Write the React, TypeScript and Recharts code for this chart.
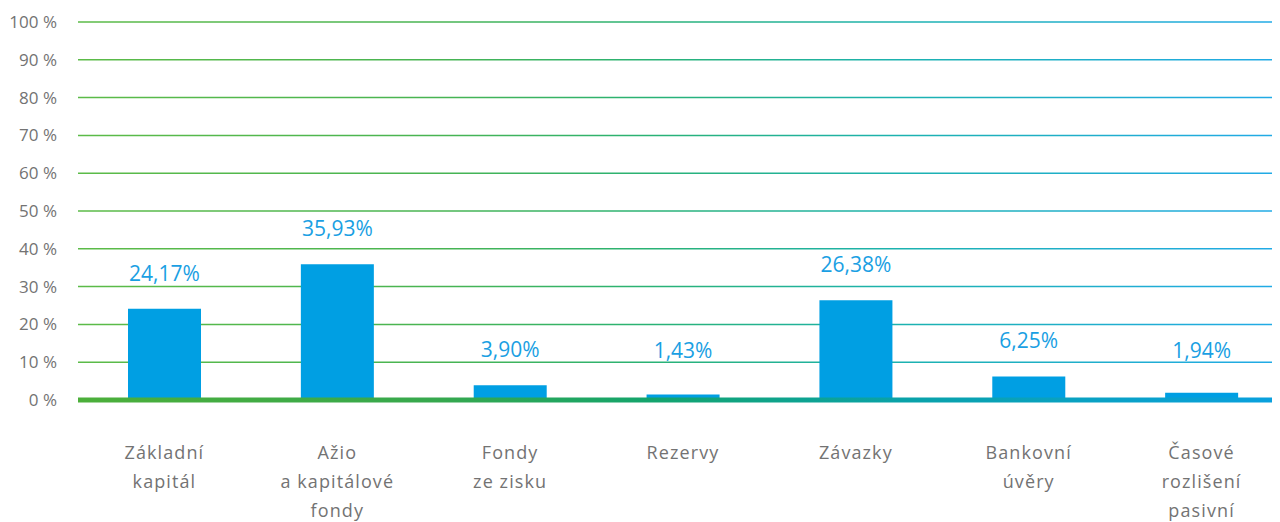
import React from "react";
import { BarChart, Bar, XAxis, YAxis, CartesianGrid, ReferenceLine, LabelList } from "recharts";

const categories = [
  "Základní\nkapitál",
  "Ažio\na kapitálové\nfondy",
  "Fondy\nze zisku",
  "Rezervy",
  "Závazky",
  "Bankovní\núvěry",
  "Časové\nrozlišení\npasivní",
];
const shares = [24.17, 35.93, 3.9, 1.43, 26.38, 6.25, 1.94];
const yTicks = [0, 10, 20, 30, 40, 50, 60, 70, 80, 90, 100];

const data = categories.map((c, i) => ({ name: c, value: shares[i] }));

const FONT = "'Open Sans', 'Noto Sans', sans-serif";

const CategoryTick = (props: any) => {
  const { x, y, payload } = props;
  const lines = String(payload.value).split("\n");
  return (
    <text
      x={x}
      y={y}
      textAnchor="middle"
      fill="#737373"
      fontSize={18}
      fontFamily={FONT}
      letterSpacing={1.1}
    >
      {lines.map((l, i) => (
        <tspan key={i} x={x} dy={i === 0 ? 59 : 29}>
          {l}
        </tspan>
      ))}
    </text>
  );
};

const ValueLabel = (props: any) => {
  const { x, y, width, height, value } = props;
  const perUnit = height / value;
  const base = y + height;
  const minTop = base - perUnit * 3.6;
  const cy = Math.min(y, minTop) - 35;
  return (
    <text
      x={x + width / 2}
      y={cy + 7}
      textAnchor="middle"
      fill="#1a9fe3"
      fontSize={21}
      fontFamily={FONT}
    >
      {value.toFixed(2).replace(".", ",") + "%"}
    </text>
  );
};

export default function App() {
  return (
    <div style={{ width: 1272, height: 514, overflow: "hidden" }}>
      <BarChart
        width={1280}
        height={514}
        data={data}
        margin={{ top: 14, right: 0, bottom: 0, left: 0 }}
      >
        <defs>
          <linearGradient id="gridGrad" gradientUnits="userSpaceOnUse" x1={70} y1={0} x2={1280} y2={0}>
            <stop offset="0" stopColor="#5cbb48" />
            <stop offset="0.3" stopColor="#48b452" />
            <stop offset="0.47" stopColor="#2ab274" />
            <stop offset="0.68" stopColor="#1cb2b0" />
            <stop offset="1" stopColor="#22aae8" />
          </linearGradient>
          <linearGradient id="baseGrad" gradientUnits="userSpaceOnUse" x1={70} y1={0} x2={1280} y2={0}>
            <stop offset="0" stopColor="#4caf3a" />
            <stop offset="0.3" stopColor="#36a84e" />
            <stop offset="0.47" stopColor="#14a46c" />
            <stop offset="0.68" stopColor="#0aa2a8" />
            <stop offset="1" stopColor="#0aa0e0" />
          </linearGradient>
        </defs>
        <CartesianGrid vertical={false} stroke="url(#gridGrad)" strokeWidth={1.5} />
        <XAxis
          dataKey="name"
          axisLine={false}
          tickLine={false}
          tickSize={0}
          tickMargin={0}
          interval={0}
          height={122}
          tick={<CategoryTick />}
        />
        <YAxis
          domain={[0, 100]}
          ticks={yTicks}
          interval={0}
          axisLine={false}
          tickLine={false}
          tickSize={0}
          tickMargin={21}
          width={70}
          tickFormatter={(v: number) => `${v} %`}
          tick={{ fill: "#737373", fontSize: 17, fontFamily: FONT }}
        />
        <Bar dataKey="value" fill="#009fe3" barSize={73} isAnimationActive={false}>
          <LabelList dataKey="value" content={<ValueLabel />} />
        </Bar>
        <ReferenceLine y={0} stroke="url(#baseGrad)" strokeWidth={5} />
      </BarChart>
    </div>
  );
}
